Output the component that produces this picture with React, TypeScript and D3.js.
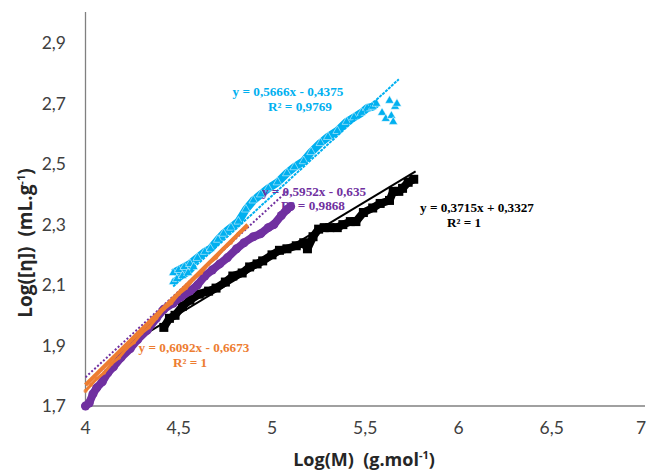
import React from "react";
import * as d3 from "d3";

const xTicks = [4, 4.5, 5, 5.5, 6, 6.5, 7];
const xTickLabels = ["4", "4,5", "5", "5,5", "6", "6,5", "7"];
const yTicks = [1.7, 1.9, 2.1, 2.3, 2.5, 2.7, 2.9];
const yTickLabels = ["1,7", "1,9", "2,1", "2,3", "2,5", "2,7", "2,9"];

const blackData: [number, number][] = [
  [4.42, 1.96], [4.45, 1.99], [4.48, 2.0], [4.52, 2.03], [4.56, 2.05], [4.61, 2.07],
  [4.66, 2.08], [4.7, 2.09], [4.75, 2.11], [4.79, 2.13], [4.84, 2.14], [4.88, 2.16],
  [4.92, 2.17], [4.95, 2.18], [5.0, 2.2], [5.04, 2.215], [5.08, 2.22], [5.13, 2.23],
  [5.17, 2.24], [5.19, 2.22], [5.22, 2.26], [5.25, 2.285], [5.28, 2.29], [5.31, 2.29],
  [5.35, 2.29], [5.38, 2.3], [5.42, 2.31], [5.45, 2.31], [5.49, 2.34], [5.54, 2.355],
  [5.58, 2.37], [5.63, 2.38], [5.65, 2.41], [5.68, 2.41], [5.7, 2.42], [5.73, 2.44],
  [5.76, 2.45],
];

const purpleData: [number, number][] = [
  [4.0, 1.7], [4.02, 1.71], [4.04, 1.74], [4.06, 1.76], [4.09, 1.78], [4.12, 1.81],
  [4.15, 1.83], [4.19, 1.86], [4.24, 1.89], [4.28, 1.92], [4.33, 1.95], [4.38, 1.99],
  [4.42, 2.02], [4.47, 2.04], [4.51, 2.06], [4.56, 2.08], [4.6, 2.1], [4.64, 2.13],
  [4.68, 2.15], [4.72, 2.17], [4.76, 2.19], [4.81, 2.22], [4.85, 2.24], [4.9, 2.26],
  [4.94, 2.27], [4.98, 2.29], [5.01, 2.3], [5.05, 2.33], [5.08, 2.35], [5.1, 2.36],
];

const orangeData: [number, number][] = [
  [4.0, 1.75], [4.03, 1.77], [4.06, 1.79], [4.1, 1.81], [4.14, 1.84], [4.18, 1.86],
  [4.22, 1.89], [4.26, 1.91], [4.3, 1.94], [4.34, 1.96], [4.38, 1.99], [4.42, 2.02],
  [4.46, 2.04], [4.5, 2.07], [4.54, 2.09], [4.58, 2.12], [4.62, 2.14], [4.66, 2.17],
  [4.7, 2.19], [4.74, 2.22], [4.78, 2.24], [4.82, 2.27], [4.86, 2.29],
];

const cyanData: [number, number][] = [
  [4.47, 2.14], [4.5, 2.15], [4.53, 2.16], [4.56, 2.17], [4.6, 2.19], [4.64, 2.21],
  [4.67, 2.22], [4.71, 2.25], [4.74, 2.27], [4.78, 2.29], [4.82, 2.31], [4.86, 2.35],
  [4.9, 2.38], [4.94, 2.4], [4.98, 2.42], [5.03, 2.44], [5.08, 2.47], [5.12, 2.49],
  [5.17, 2.51], [5.21, 2.54], [5.26, 2.57], [5.3, 2.59], [5.35, 2.61], [5.4, 2.64],
  [5.44, 2.655], [5.48, 2.67], [5.51, 2.685], [5.54, 2.69], [5.56, 2.7],
];
const cyanLow: [number, number][] = [
  [4.47, 2.11], [4.49, 2.12], [4.52, 2.13], [4.55, 2.14], [4.58, 2.16],
];
const cyanScatter: [number, number][] = [
  [5.59, 2.67], [5.61, 2.65], [5.63, 2.71], [5.64, 2.66], [5.66, 2.69], [5.67, 2.7], [5.65, 2.64],
];

// trendlines from the displayed equations
const cyanTrend = { slope: 0.5666, intercept: -0.4375, x0: 4.47, x1: 5.68 };
const blackTrend = { slope: 0.3715, intercept: 0.3327, x0: 4.32, x1: 5.77 };
const orangeTrend = { slope: 0.6092, intercept: -0.6673, x0: 4.0, x1: 4.87 };
const purpleTrendPts: [number, number][] = [[4.0, 1.795], [5.08, 2.41]];

const W = 648;
const H = 470;
const left = 85.5;
const right = 645;
const top = 13;
const bottom = 406;

export default function App() {
  const x = d3.scaleLinear().domain([4, 7]).range([left, right]);
  const y = d3.scaleLinear().domain([1.7, 3.0]).range([bottom, top]);
  const line = d3
    .line<[number, number]>()
    .x((d) => x(d[0]))
    .y((d) => y(d[1]))
    .curve(d3.curveLinear);
  const trend = (t: { slope: number; intercept: number; x0: number; x1: number }) =>
    line([
      [t.x0, t.slope * t.x0 + t.intercept],
      [t.x1, t.slope * t.x1 + t.intercept],
    ]) as string;
  const tri = d3.symbol().type(d3.symbolTriangle).size(34)() as string;

  const black = "#000000";
  const cyan = "#00B0F0";
  const purple = "#7030A0";
  const orange = "#ED7D31";
  const eqFont = "'Liberation Serif', 'Times New Roman', serif";
  const axFont = "'Open Sans', Lato, sans-serif";
  const tickFont = "Lato, 'Open Sans', sans-serif";

  return (
    <svg width={W} height={H} style={{ position: "absolute", left: 0, top: 0, background: "#fff" }}>
      <rect width={W} height={H} fill="#fff" />
      {/* axes */}
      <line x1={left} x2={left} y1={12} y2={bottom} stroke="#808080" strokeWidth={1.3} />
      <line x1={left} x2={right} y1={bottom} y2={bottom} stroke="#808080" strokeWidth={1.3} />
      {xTicks.map((t, i) => (
        <text key={t} x={Math.min(x(t), 641)} y={434} textAnchor="middle" fontFamily={tickFont} fontSize={17.5} fill="#404040">
          {xTickLabels[i]}
        </text>
      ))}
      {yTicks.map((t, i) => (
        <text key={t} x={66} y={y(t) + 6} textAnchor="end" fontFamily={tickFont} fontSize={17.5} fill="#404040">
          {yTickLabels[i]}
        </text>
      ))}
      <text x={364} y={466} textAnchor="middle" fontFamily={axFont} fontSize={18} fontWeight="bold" fill="#262626" style={{ whiteSpace: "pre" }}>
        {"Log(M)  (g.mol"}<tspan dy={-7} fontSize={11}>-1</tspan>
        <tspan dy={7}>)</tspan>
      </text>
      <text
        transform="translate(32,243) rotate(-90)"
        textAnchor="middle"
        fontFamily={axFont}
        fontSize={19}
        fontWeight="bold"
        fill="#262626"
        style={{ whiteSpace: "pre" }}
      >
        {"Log([η])  (mL.g"}<tspan dy={-7} fontSize={11}>-1</tspan>
        <tspan dy={7}>)</tspan>
      </text>

      {/* black series */}
      <path d={line(blackData) as string} fill="none" stroke={black} strokeWidth={8} strokeLinejoin="round" />
      {blackData.map((d, i) => (
        <rect key={i} x={x(d[0]) - 4.5} y={y(d[1]) - 4.5} width={9} height={9} fill={black} />
      ))}
      <path d={trend(blackTrend)} stroke={black} strokeWidth={2} fill="none" />

      {/* cyan series */}
      <path d={line(cyanData) as string} fill="none" stroke={cyan} strokeWidth={8} strokeLinejoin="round" />
      <path d={line(cyanLow) as string} fill="none" stroke={cyan} strokeWidth={6} strokeLinejoin="round" />
      {cyanData.concat(cyanLow, cyanScatter).map((d, i) => (
        <path key={i} d={tri} transform={`translate(${x(d[0])},${y(d[1])})`} fill={cyan} stroke="#ffffff" strokeWidth={0.5} />
      ))}
      <path d={trend(cyanTrend)} stroke={cyan} strokeWidth={2} strokeDasharray="3,1" fill="none" />

      {/* purple series */}
      <path d={line(purpleData) as string} fill="none" stroke={purple} strokeWidth={8} strokeLinejoin="round" strokeLinecap="round" />
      {purpleData.map((d, i) => (
        <circle key={i} cx={x(d[0])} cy={y(d[1])} r={4.5} fill={purple} />
      ))}
      <path d={line(purpleTrendPts) as string} stroke={purple} strokeWidth={2} strokeDasharray="2,2" fill="none" />

      {/* orange series */}
      <path d={line(orangeData) as string} fill="none" stroke={orange} strokeWidth={3} />
      {orangeData.map((d, i) => (
        <circle key={i} cx={x(d[0])} cy={y(d[1])} r={2} fill={orange} opacity={0.8} />
      ))}
      <path d={trend(orangeTrend)} stroke={orange} strokeWidth={4} fill="none" />

      {/* equations */}
      <g fontFamily={eqFont} fontWeight="bold" fontSize={13.2}>
        <text x={288} y={96} textAnchor="middle" fill={cyan}>y = 0,5666x - 0,4375</text>
        <text x={300} y={111} textAnchor="middle" fill={cyan}>R² = 0,9769</text>
        <text x={314} y={196} textAnchor="middle" fill={purple}>y = 0,5952x - 0,635</text>
        <text x={313} y={210} textAnchor="middle" fill={purple}>R² = 0,9868</text>
        <text x={477} y={212} textAnchor="middle" fill={black}>y = 0,3715x + 0,3327</text>
        <text x={464} y={227} textAnchor="middle" fill={black}>R² = 1</text>
        <text x={194} y={352} textAnchor="middle" fill={orange}>y = 0,6092x - 0,6673</text>
        <text x={190} y={367} textAnchor="middle" fill={orange}>R² = 1</text>
      </g>
    </svg>
  );
}
